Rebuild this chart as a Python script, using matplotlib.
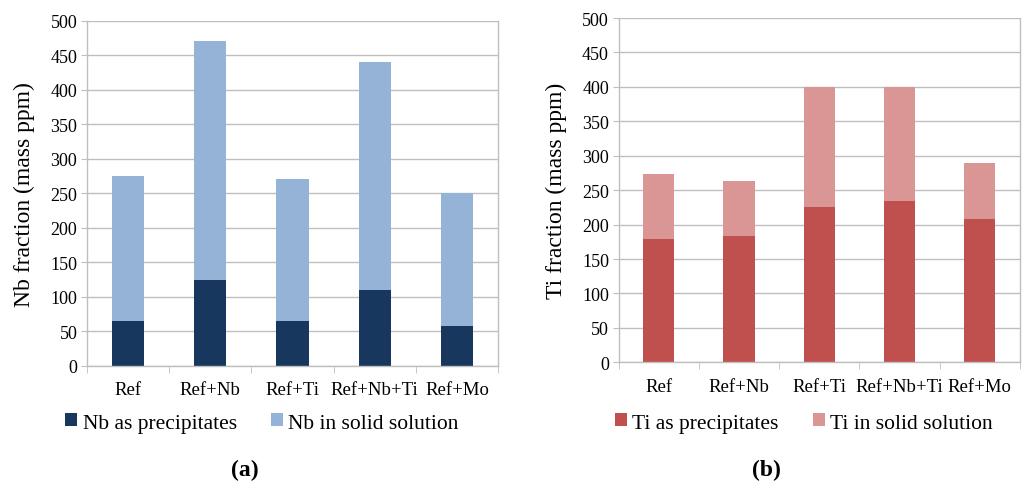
import matplotlib
matplotlib.use("Agg")
import matplotlib.pyplot as plt
import numpy as np

categories = ["Ref", "Ref+Nb", "Ref+Ti", "Ref+Nb+Ti", "Ref+Mo"]
nb_precip = [65, 124, 65, 110, 58]
nb_total = [275, 470, 270, 440, 250]
ti_precip = [179, 184, 226, 234, 208]
ti_total = [274, 264, 400, 400, 290]
nb_solid = [t - p for t, p in zip(nb_total, nb_precip)]
ti_solid = [t - p for t, p in zip(ti_total, ti_precip)]
yticks = [0, 50, 100, 150, 200, 250, 300, 350, 400, 450, 500]

plt.rcParams['font.family'] = ['Liberation Serif', 'DejaVu Serif']

fig = plt.figure(figsize=(10.22, 4.85), dpi=100)
axL = fig.add_axes([87/1022, 1-366.7/485, 411/1022, 345/485])
axR = fig.add_axes([618.7/1022, 1-363.3/485, 401/1022, 344.3/485])

grid_c = "#BFBFBF"

def style(ax, ylabel):
    ax.set_ylim(0, 500)
    ax.set_xlim(-0.5, 4.5)
    ax.set_yticks(yticks)
    ax.tick_params(axis='y', labelsize=13, length=4, color=grid_c, pad=3)
    ax.set_xticks(np.arange(len(categories)))
    ax.set_xticklabels(categories, fontsize=13.5)
    ax.tick_params(axis='x', length=0, pad=11)
    ax.set_xticks(np.arange(-0.5, 5, 1), minor=True)
    ax.tick_params(axis='x', which='minor', length=5, color=grid_c)
    ax.grid(axis='y', color=grid_c, linewidth=1)
    ax.set_axisbelow(True)
    for s in ax.spines.values():
        s.set_color(grid_c)
        s.set_linewidth(1)
    ax.spines['top'].set_visible(False)
    ax.set_ylabel(ylabel, fontsize=17, labelpad=11)

x = np.arange(len(categories))
w = 0.39
axL.bar(x, nb_precip, w, color="#17375E", label="Nb as precipitates")
axL.bar(x, nb_solid, w, bottom=nb_precip, color="#95B3D7", label="Nb in solid solution")
style(axL, "Nb fraction (mass ppm)")

axR.bar(x, ti_precip, w, color="#C0504D", label="Ti as precipitates")
axR.bar(x, ti_solid, w, bottom=ti_precip, color="#D99694", label="Ti in solid solution")
style(axR, "Ti fraction (mass ppm)")

for ax, cx in [(axL, 262/1022), (axR, 804/1022)]:
    h, l = ax.get_legend_handles_labels()
    fig.legend(h, l, loc='center', bbox_to_anchor=(cx, 1-424/485), ncol=2,
               frameon=False, fontsize=15.5, handlelength=0.55, handleheight=0.55,
               handletextpad=0.25, columnspacing=1.6)

fig.text(245/1022, 1-470/485, "(a)", ha='center', va='center', fontsize=17, fontweight='bold')
fig.text(766/1022, 1-470/485, "(b)", ha='center', va='center', fontsize=17, fontweight='bold')

fig.savefig("out.png", dpi=100)
